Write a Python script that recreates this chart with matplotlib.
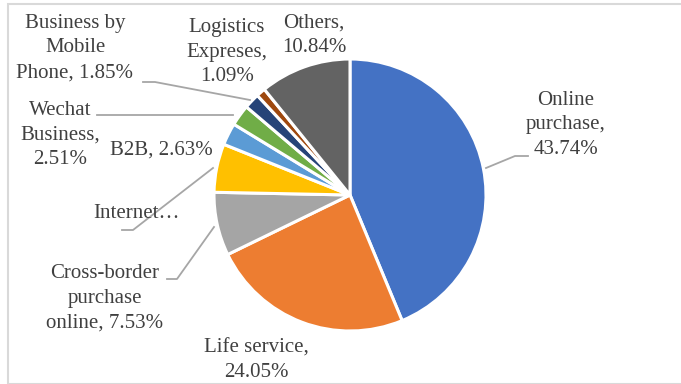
import matplotlib.pyplot as plt
from matplotlib.patches import Rectangle

# Share of online business categories (%)
categories = ['Online purchase', 'Life service', 'Cross-border purchase online',
              'Internet', 'B2B', 'Wechat Business', 'Business by Mobile Phone',
              'Logistics Expreses', 'Others']
shares = [43.74, 24.05, 7.53, 5.76, 2.63, 2.51, 1.85, 1.09, 10.84]
labels = ['Online\npurchase,\n43.74%', 'Life service,\n24.05%',
          'Cross-border\npurchase\nonline, 7.53%', 'Internet…', 'B2B, 2.63%',
          'Wechat\nBusiness,\n2.51%', 'Business by\nMobile\nPhone, 1.85%',
          'Logistics\nExpreses,\n1.09%', 'Others,\n10.84%']
colors = ['#4472C4', '#ED7D31', '#A5A5A5', '#FFC000', '#5B9BD5',
          '#70AD47', '#264478', '#9E480E', '#636363']

W, H = 681, 384
fig = plt.figure(figsize=(W / 100, H / 100), dpi=100)
ax = fig.add_axes([0, 0, 1, 1])
ax.set_xlim(0, W)
ax.set_ylim(0, H)
ax.set_aspect('equal')
ax.axis('off')

cx, cy, r = 350, H - 195, 136
ax.pie(shares, colors=colors, startangle=90, counterclock=False,
       center=(cx, cy), radius=r,
       wedgeprops=dict(edgecolor='white', linewidth=2.2))
ax.set_xlim(0, W)
ax.set_ylim(0, H)

# label positions in pixel coords (x, y from top)
label_pos = [(566, 125), (256, 360), (105, 298), (137, 213), (161, 150),
             (60, 135), (75, 48), (227, 52), (314, 35)]
for txt, (x, y) in zip(labels, label_pos):
    ax.text(x, H - y, txt, ha='center', va='center', fontsize=15,
            family='Liberation Serif', color='#404040', linespacing=1.4)

# leader lines (pixel coords, y from top)
leaders = [
    [(486, 168), (515, 156), (528, 156)],
    [(167, 279), (177, 279), (214, 227)],
    [(122, 230), (133, 230), (213, 168)],
    [(97, 115), (233, 115)],
    [(143, 82), (155, 82), (250, 100)],
]
for pts in leaders:
    xs = [p[0] for p in pts]
    ys = [H - p[1] for p in pts]
    ax.plot(xs, ys, color='#A6A6A6', lw=1.3)

# chart border
fig.patches.append(Rectangle((8 / W, 0), 1 - 8 / W + 0.01, 1 - 4 / H,
                             transform=fig.transFigure, fill=False,
                             edgecolor='#D9D9D9', lw=1.5))

fig.savefig('out.png', dpi=100)
